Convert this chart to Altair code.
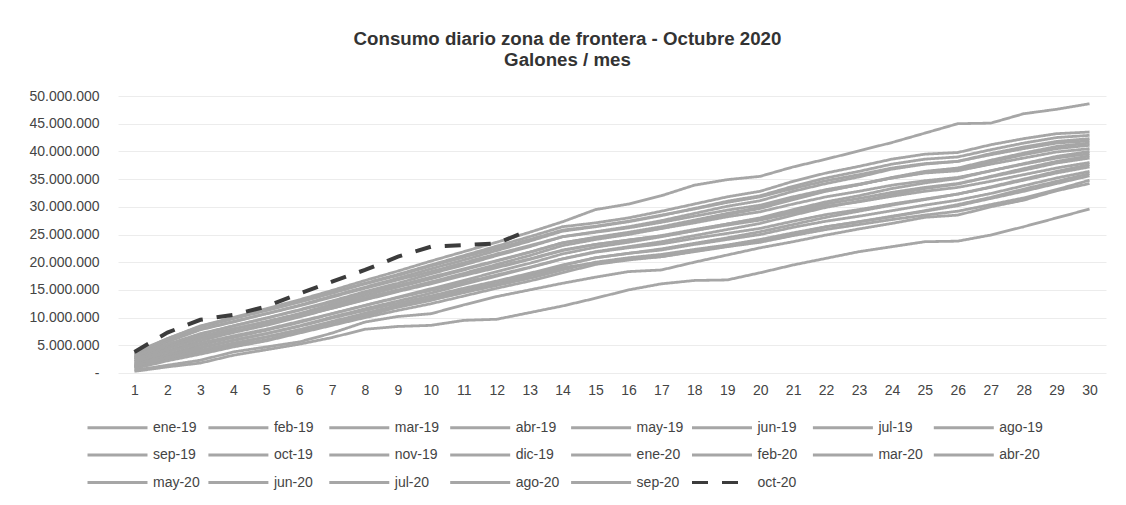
import altair as alt
import pandas as pd

dias = list(range(1, 31))
meses = ["ene-19", "feb-19", "mar-19", "abr-19", "may-19", "jun-19", "jul-19", "ago-19",
         "sep-19", "oct-19", "nov-19", "dic-19", "ene-20", "feb-20", "mar-20", "abr-20",
         "may-20", "jun-20", "jul-20", "ago-20", "sep-20", "oct-20"]

# Consumo acumulado diario, millones de galones
ene_19 = [1.7, 3.4, 5.0, 6.4, 7.7, 9.1, 10.7, 12.2, 13.7, 15.2, 16.7, 18.3, 19.8, 21.5, 22.7, 23.6, 24.6, 25.7, 26.9, 28.0, 29.5, 30.9, 32.0, 33.3, 34.3, 35.1, 36.5, 37.8, 39.1, 40.0]
feb_19 = [1.1, 2.6, 4.0, 5.3, 6.5, 7.8, 9.3, 10.8, 12.2, 13.5, 15.0, 16.4, 17.8, 19.4, 20.8, 21.6, 22.4, 23.4, 24.4, 25.5, 26.8, 28.1, 29.2, 30.3, 31.3, 32.3, 33.6, 35.0, 36.4, 37.6]
mar_19 = [2.5, 4.6, 6.5, 7.9, 9.3, 10.7, 12.4, 14.0, 15.5, 17.0, 18.6, 20.2, 21.8, 23.5, 24.5, 25.4, 26.4, 27.6, 28.8, 29.9, 31.4, 32.9, 34.0, 35.2, 36.2, 36.8, 38.1, 39.4, 40.5, 41.1]
abr_19 = [1.4, 3.0, 4.5, 5.9, 7.1, 8.5, 10.1, 11.6, 13.0, 14.4, 16.0, 17.5, 19.0, 20.6, 21.9, 22.8, 23.7, 24.8, 25.9, 27.0, 28.5, 29.9, 31.0, 32.2, 33.3, 34.1, 35.5, 36.9, 38.2, 39.2]
may_19 = [2.1, 4.0, 5.8, 7.3, 8.6, 10.1, 11.7, 13.3, 14.8, 16.4, 18.0, 19.6, 21.2, 23.0, 24.1, 25.0, 26.1, 27.3, 28.6, 29.7, 31.3, 32.8, 34.0, 35.3, 36.4, 37.0, 38.4, 39.7, 40.9, 41.5]
jun_19 = [2.0, 3.8, 5.4, 6.7, 7.9, 9.3, 10.7, 12.2, 13.6, 14.9, 16.3, 17.7, 19.1, 20.6, 21.8, 22.6, 23.3, 24.3, 25.2, 26.1, 27.4, 28.6, 29.5, 30.5, 31.4, 32.3, 33.5, 34.8, 36.1, 37.2]
jul_19 = [2.8, 5.0, 7.0, 8.5, 9.9, 11.4, 13.0, 14.7, 16.2, 17.9, 19.5, 21.2, 22.8, 24.6, 25.5, 26.4, 27.5, 28.8, 30.1, 31.1, 32.8, 34.2, 35.4, 36.8, 37.7, 38.2, 39.6, 40.8, 41.8, 42.3]
ago_19 = [3.3, 5.6, 7.8, 9.2, 10.7, 12.2, 13.9, 15.5, 17.1, 18.8, 20.4, 22.1, 23.8, 25.6, 26.4, 27.3, 28.4, 29.7, 31.0, 32.0, 33.7, 35.2, 36.4, 37.7, 38.6, 39.0, 40.3, 41.5, 42.5, 42.9]
sep_19 = [2.4, 4.4, 6.2, 7.5, 8.8, 10.2, 11.7, 13.2, 14.7, 16.1, 17.6, 19.0, 20.5, 22.1, 23.2, 24.0, 24.8, 25.9, 26.9, 27.9, 29.2, 30.5, 31.5, 32.6, 33.5, 34.2, 35.4, 36.6, 37.9, 38.8]
oct_19 = [3.6, 6.0, 8.3, 9.8, 11.3, 12.8, 14.5, 16.2, 17.8, 19.5, 21.2, 22.9, 24.6, 26.4, 27.1, 28.0, 29.2, 30.5, 31.8, 32.8, 34.6, 36.1, 37.3, 38.6, 39.5, 39.8, 41.2, 42.3, 43.2, 43.5]
nov_19 = [3.4, 5.8, 7.9, 9.3, 10.7, 12.1, 13.7, 15.3, 16.8, 18.3, 19.9, 21.5, 23.0, 24.6, 25.4, 26.2, 27.2, 28.3, 29.4, 30.3, 31.8, 33.1, 34.1, 35.2, 36.1, 36.5, 37.7, 38.8, 39.9, 40.5]
dic_19 = [3.5, 6.2, 8.5, 10.0, 11.6, 13.2, 14.9, 16.7, 18.4, 20.2, 21.9, 23.6, 25.4, 27.3, 29.5, 30.5, 32.0, 33.9, 34.9, 35.5, 37.2, 38.6, 40.1, 41.6, 43.3, 45.0, 45.1, 46.8, 47.6, 48.6]
ene_20 = [3.7, 6.2, 8.4, 9.9, 11.3, 12.8, 14.4, 16.1, 17.6, 19.3, 20.9, 22.5, 24.1, 25.8, 26.5, 27.4, 28.5, 29.6, 30.8, 31.8, 33.3, 34.7, 35.8, 37.0, 37.8, 38.2, 39.4, 40.5, 41.5, 41.9]
feb_20 = [2.7, 4.8, 6.6, 8.0, 9.2, 10.6, 12.1, 13.6, 15.0, 16.4, 17.8, 19.2, 20.6, 22.2, 23.2, 24.0, 24.7, 25.7, 26.7, 27.6, 28.9, 30.1, 30.9, 31.9, 32.8, 33.5, 34.6, 35.8, 37.0, 38.0]
mar_20 = [3.0, 5.2, 7.1, 8.5, 9.9, 11.3, 12.8, 14.4, 15.8, 17.3, 18.8, 20.3, 21.8, 23.5, 24.4, 25.2, 26.1, 27.1, 28.2, 29.1, 30.5, 31.8, 32.8, 33.9, 34.7, 35.3, 36.5, 37.7, 38.8, 39.6]
abr_20 = [0.3, 1.1, 1.8, 3.2, 4.2, 5.2, 6.4, 7.9, 8.4, 8.6, 9.5, 9.7, 10.9, 12.1, 13.5, 15.0, 16.1, 16.7, 16.8, 18.1, 19.5, 20.7, 21.9, 22.8, 23.7, 23.8, 24.9, 26.4, 28.0, 29.6]
may_20 = [0.5, 1.4, 2.3, 3.8, 4.7, 5.6, 7.2, 9.2, 10.2, 10.7, 12.3, 13.8, 15.0, 16.2, 17.3, 18.3, 18.6, 20.0, 21.3, 22.6, 23.7, 24.9, 26.0, 27.0, 28.1, 28.5, 30.0, 31.2, 32.9, 34.2]
jun_20 = [1.0, 2.4, 3.6, 5.0, 6.0, 7.4, 8.8, 10.3, 11.9, 13.1, 14.6, 16.0, 17.5, 19.0, 19.9, 20.6, 21.0, 21.9, 22.8, 23.6, 24.8, 25.9, 26.8, 27.7, 28.5, 29.2, 30.4, 31.6, 33.1, 34.8]
jul_20 = [1.5, 3.2, 4.6, 5.9, 7.1, 8.4, 9.9, 11.3, 12.6, 13.9, 15.3, 16.6, 18.0, 19.5, 20.8, 21.6, 22.2, 23.2, 24.1, 25.0, 26.3, 27.4, 28.3, 29.3, 30.3, 31.2, 32.4, 33.8, 35.2, 36.4]
ago_20 = [0.8, 2.2, 3.4, 4.7, 5.8, 7.2, 8.6, 10.0, 11.3, 12.5, 13.9, 15.3, 16.6, 18.1, 19.6, 20.4, 21.0, 22.0, 22.9, 23.9, 25.1, 26.4, 27.3, 28.3, 29.3, 30.4, 31.7, 33.2, 34.6, 36.0]
sep_20 = [1.2, 2.8, 4.1, 5.4, 6.5, 7.8, 9.2, 10.6, 11.9, 13.2, 14.5, 15.8, 17.1, 18.6, 20.0, 20.8, 21.4, 22.3, 23.1, 24.1, 25.3, 26.4, 27.3, 28.2, 29.2, 30.2, 31.5, 32.8, 34.2, 35.6]
oct_20 = [3.8, 7.3, 9.6, 10.5, 12.0, 14.3, 16.5, 18.6, 21.0, 22.8, 23.1, 23.4, 25.8]

valores = [ene_19, feb_19, mar_19, abr_19, may_19, jun_19, jul_19, ago_19, sep_19, oct_19,
           nov_19, dic_19, ene_20, feb_20, mar_20, abr_20, may_20, jun_20, jul_20, ago_20,
           sep_20, oct_20]

rows = []
for mes, serie in zip(meses, valores):
    for d, v in zip(dias, serie):
        rows.append({"dia": d, "valor": v, "serie": mes})
df = pd.DataFrame(rows)

gris = "#a6a6a6"
oscuro = "#3c3c3c"
color_range = [gris] * 21 + [oscuro]
dash_range = [[1, 0]] * 21 + [[16, 14]]

FONT = "Liberation Sans"

leg = alt.Legend(
    title=None, orient="none", legendX=-31, legendY=324, columns=8, direction="horizontal",
    symbolType="M-5,0H5", symbolSize=144, symbolStrokeWidth=2.8, gridAlign="all",
    symbolOffset=23, labelOffset=28,
    columnPadding=1.9, rowPadding=12.5, labelLimit=200, padding=0,
    labelFont=FONT, labelFontSize=14, labelColor="#444444",
)

y_label = ("datum.value == 0 ? '-\u00a0\u00a0' : "
           "replace(format(datum.value * 1000000, ',.0f'), regexp(',', 'g'), '.')")

enc = dict(
    x=alt.X("dia:O", axis=alt.Axis(title=None, labelAngle=0, ticks=False, domain=False,
                                   labelPadding=10, labelFont=FONT, labelFontSize=14,
                                   labelColor="#444444", grid=False)),
    y=alt.Y("valor:Q", scale=alt.Scale(domain=[0, 50], nice=False),
            axis=alt.Axis(title=None, values=list(range(0, 55, 5)), labelExpr=y_label,
                          ticks=False, domain=False, labelPadding=19, labelFont=FONT,
                          labelFontSize=14, labelColor="#444444",
                          gridColor="#ececec", gridWidth=1)),
    color=alt.Color("serie:N", scale=alt.Scale(domain=meses, range=color_range), legend=leg),
    strokeDash=alt.StrokeDash("serie:N", scale=alt.Scale(domain=meses, range=dash_range), legend=leg),
)

base = alt.Chart(df)
grises = base.transform_filter(alt.datum.serie != "oct-20").mark_line(strokeWidth=2.8).encode(**enc)
octubre = base.transform_filter(alt.datum.serie == "oct-20").mark_line(strokeWidth=4).encode(**enc)

chart = alt.layer(grises, octubre).properties(
    width=988, height=277,
    padding={"left": 110, "top": 88, "right": 5, "bottom": 120},
    autosize=alt.AutoSizeParams(type="none"),
    title=alt.TitleParams(
        text="Consumo diario zona de frontera - Octubre 2020",
        subtitle="Galones / mes",
        font=FONT, subtitleFont=FONT, fontSize=18.7, subtitleFontSize=18.7,
        fontWeight="bold", subtitleFontWeight="bold",
        color="#333333", subtitleColor="#333333",
        anchor="middle", frame="bounds", offset=19, subtitlePadding=3,
    ),
).configure_view(stroke=None)

chart.save("out.html", embed_options={"renderer": "svg", "actions": False})
